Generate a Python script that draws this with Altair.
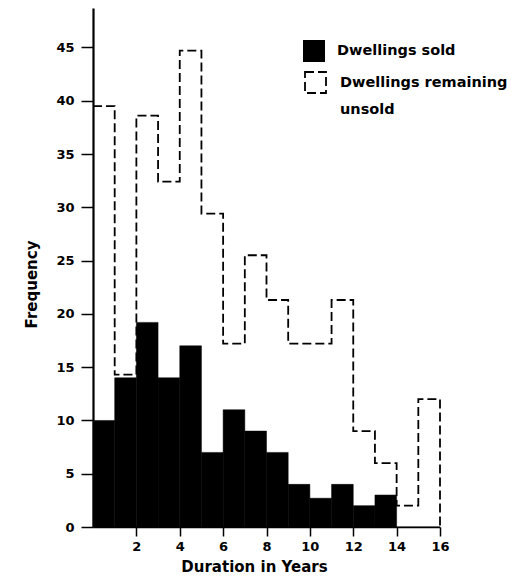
import altair as alt
import pandas as pd

# ---- data ----
bin_start = list(range(16))
bin_end = list(range(1, 17))
sold = [10, 14, 19.2, 14, 17, 7, 11, 9, 7, 4, 2.7, 4, 2, 3, 0, 0]
unsold = [39.5, 14.3, 38.6, 32.4, 44.7, 29.4, 17.2, 25.5, 21.3, 17.2, 17.2, 21.3, 9, 6, 2, 12]
x_ticks = [2, 4, 6, 8, 10, 12, 14, 16]
y_ticks = [0, 5, 10, 15, 20, 25, 30, 35, 40, 45]
sold_label = "Dwellings sold"
unsold_label = "Dwellings remaining|unsold"

sold_df = pd.DataFrame({"start": bin_start, "end": bin_end, "count": sold,
                        "series": sold_label})
line_df = pd.DataFrame({"start": bin_start + [bin_end[-1]], "count": unsold + [0],
                        "series2": unsold_label})

FONT = "DejaVu Sans"

x_scale = alt.Scale(domain=[0, 16], nice=False, zero=False)
y_scale = alt.Scale(domain=[0, 48.7], nice=False)

x_axis = alt.Axis(values=x_ticks, title="Duration in Years", grid=False,
                  domainWidth=1.5, tickWidth=1.5, tickSize=9, labelPadding=4,
                  labelFontSize=13, titleFontSize=15, titlePadding=6,
                  titleX=161, labelFlush=False)
y_axis = alt.Axis(values=y_ticks, title="Frequency", grid=False,
                  domainWidth=2.2, tickWidth=1.5, tickSize=12, labelPadding=7,
                  labelFontSize=13, titleFontSize=15, titlePadding=16,
                  titleY=276)

bars = alt.Chart(sold_df).mark_rect(stroke="black", strokeWidth=0.5).encode(
    x=alt.X("start:Q", scale=x_scale, axis=x_axis),
    x2="end:Q",
    y=alt.Y("count:Q", scale=y_scale, axis=y_axis),
    y2=alt.datum(0),
    color=alt.Color("series:N", scale=alt.Scale(range=["black"]),
                    legend=alt.Legend(title=None, orient="none", legendX=210,
                                      legendY=32, symbolType="square",
                                      symbolSize=484, symbolStrokeWidth=0,
                                      labelOffset=12, labelFontSize=14.5,
                                      padding=0)),
)

line = alt.Chart(line_df).mark_line(interpolate="step-after", color="black",
                                    strokeWidth=1.8).encode(
    x="start:Q",
    y="count:Q",
    strokeDash=alt.StrokeDash(
        "series2:N", scale=alt.Scale(range=[[9, 4]]),
        legend=alt.Legend(title=None, orient="none", legendX=211, legendY=63,
                          symbolType="square", symbolSize=441,
                          symbolStrokeColor="black", symbolFillColor="transparent",
                          symbolStrokeWidth=1.8, labelOffset=13, labelFontSize=14.5,
                          padding=0, labelExpr="split(datum.label, '|')")),
)

chart = alt.layer(bars, line).properties(
    width=347, height=519,
    padding={"left": 85, "top": 0, "right": 70, "bottom": 49},
    autosize=alt.AutoSizeParams(type="none"),
).configure(
    view=alt.ViewConfig(stroke=None),
    axis=alt.AxisConfig(labelFont=FONT, titleFont=FONT, labelFontWeight="bold",
                        titleFontWeight="bold", labelColor="black",
                        titleColor="black", domainColor="black", tickColor="black"),
    legend=alt.LegendConfig(labelFont=FONT, labelFontWeight="bold",
                            labelColor="black", labelLimit=400),
    style={"guide-label": {"lineHeight": 27}},
)

chart.save("out.html", embed_options={"renderer": "svg", "actions": False})
